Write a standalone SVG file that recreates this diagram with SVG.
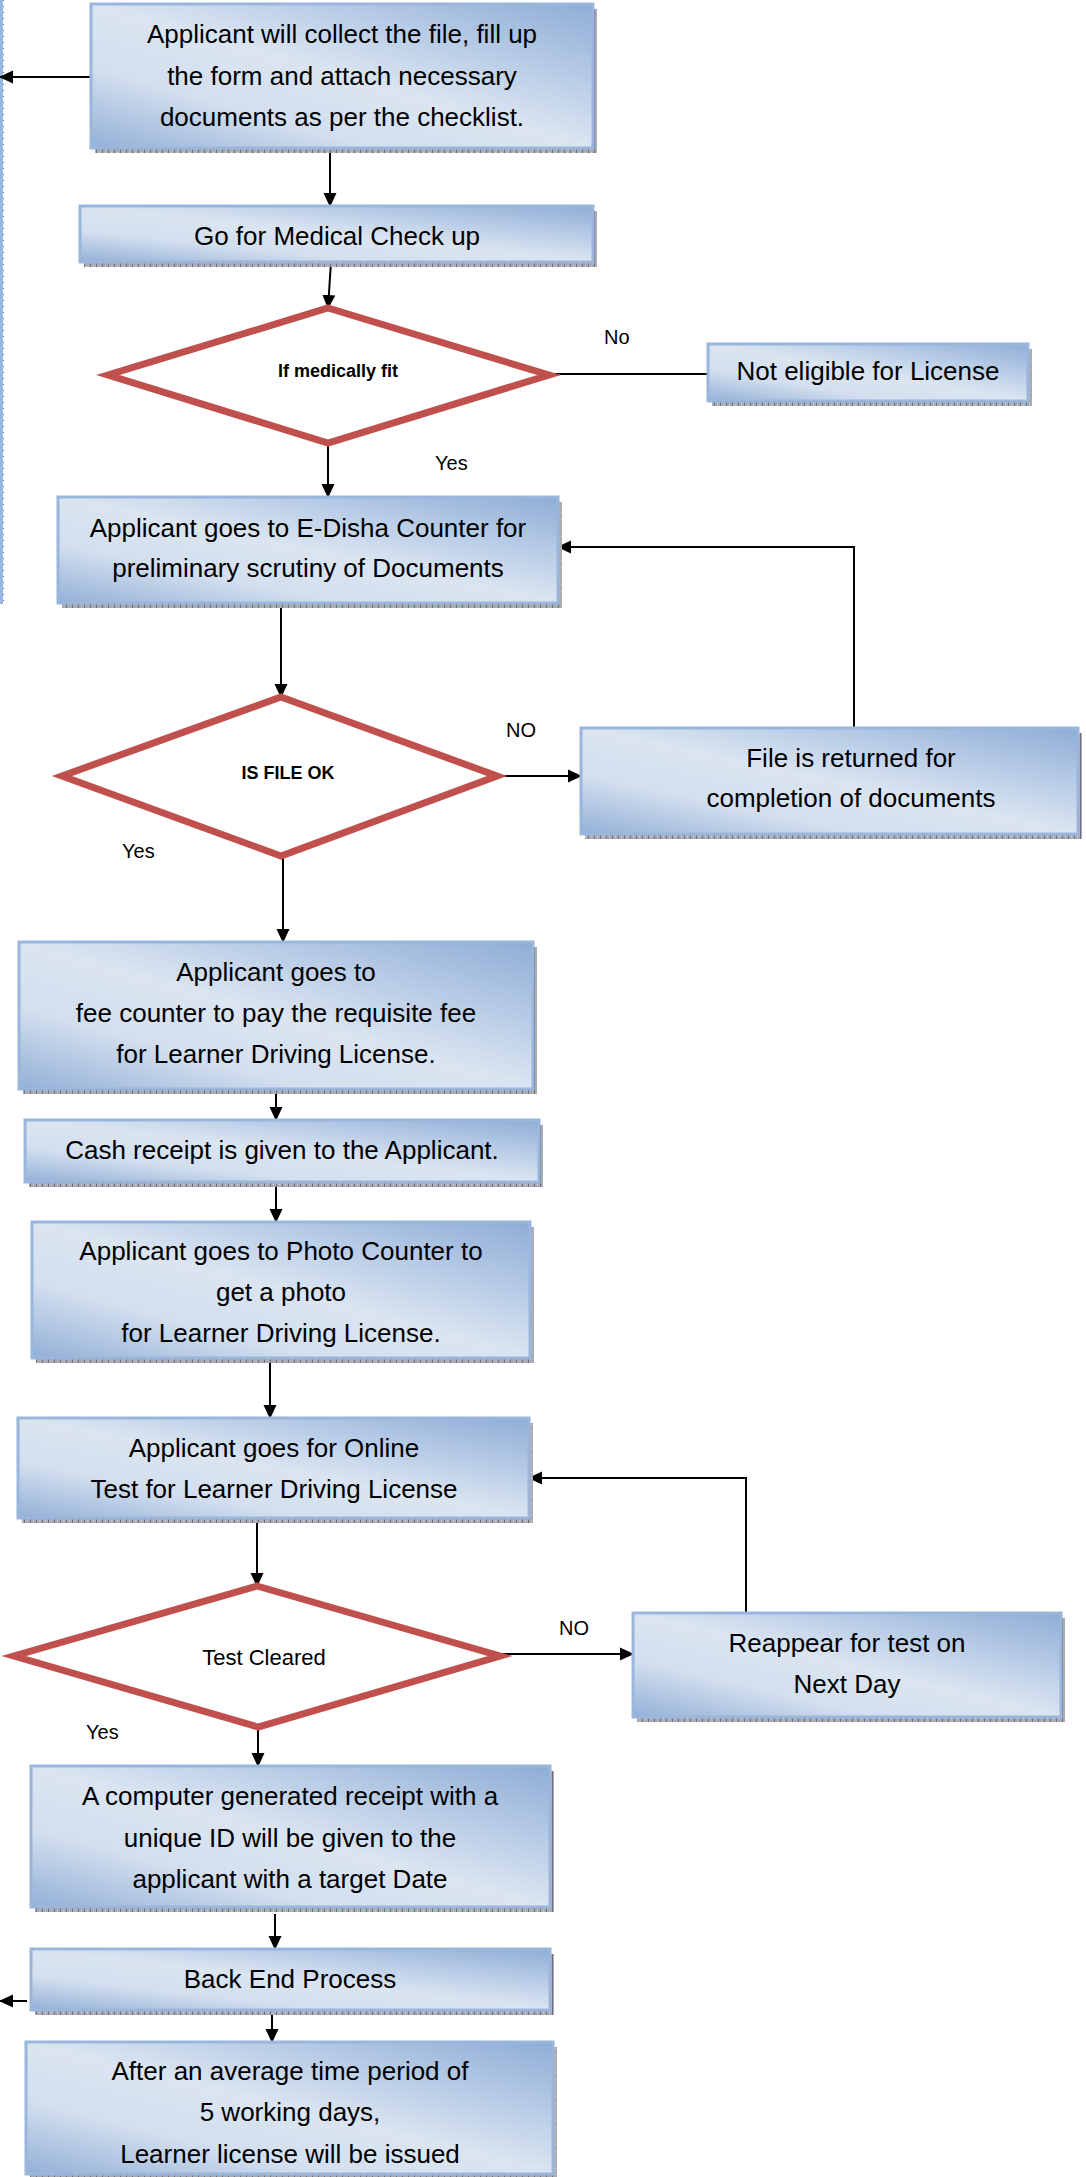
<svg xmlns="http://www.w3.org/2000/svg" width="1086" height="2177" viewBox="0 0 1086 2177">
<defs>
<linearGradient id="boxGrad" x1="1" y1="0" x2="0" y2="1">
<stop offset="0" stop-color="#8eadd5"/>
<stop offset="0.3" stop-color="#bccfe8"/>
<stop offset="0.5" stop-color="#dbe5f1"/>
<stop offset="0.72" stop-color="#d3dfef"/>
<stop offset="1" stop-color="#92b0d6"/>
</linearGradient>
<pattern id="shadowPat" width="6" height="6" patternUnits="userSpaceOnUse">
<rect width="6" height="6" fill="#a9acb2"/>
<rect x="0" y="0" width="1" height="6" fill="#6b7180"/>
<rect x="3" y="2" width="1" height="1" fill="#d0d2d6"/>
</pattern>
<marker id="arr" viewBox="0 0 14 14" markerWidth="14" markerHeight="14" refX="13" refY="7" orient="auto" markerUnits="userSpaceOnUse">
<path d="M0,0.5 L14,7 L0,13.5 z" fill="#000"/>
</marker>
</defs>
<style>
.shadow{fill:url(#shadowPat);}
.box{fill:url(#boxGrad);stroke:#9ab6dc;stroke-width:3;}
.dia{fill:#fff;stroke:#c0504d;stroke-width:7;stroke-linejoin:miter;}
.t{font-family:"Liberation Sans",Arial,sans-serif;font-size:26px;fill:#000;text-anchor:middle;}
.lbl{font-family:"Liberation Sans",Arial,sans-serif;font-size:20px;fill:#000;}
.dt{font-family:"Liberation Sans",Arial,sans-serif;font-size:18px;font-weight:bold;fill:#000;text-anchor:middle;}
.dtn{font-family:"Liberation Sans",Arial,sans-serif;font-size:22px;fill:#000;text-anchor:middle;}
.c{fill:none;stroke:#000;stroke-width:2;}
.ca{fill:none;stroke:#000;stroke-width:2;marker-end:url(#arr);}
</style>
<rect width="1086" height="2177" fill="#fff"/>

<g id="left-edge">
<rect x="0" y="0" width="3" height="604" fill="#9ab6dc"/>
<line x1="3.5" y1="0" x2="3.5" y2="604" stroke="#6b7180" stroke-width="1" stroke-dasharray="1 5"/>
</g>

<g id="connectors">
<line class="ca" x1="90" y1="77" x2="0" y2="77"/>
<line class="ca" x1="330" y1="148" x2="330" y2="206"/>
<line class="ca" x1="331" y1="262" x2="328" y2="308"/>
<line class="c" x1="549" y1="374" x2="708" y2="374"/>
<line class="ca" x1="328" y1="443" x2="328" y2="497"/>
<line class="ca" x1="281" y1="603" x2="281" y2="697"/>
<line class="ca" x1="497" y1="776" x2="581" y2="776"/>
<polyline class="ca" points="854,728 854,547 558,547"/>
<line class="ca" x1="283" y1="856" x2="283" y2="942"/>
<line class="ca" x1="276" y1="1089" x2="276" y2="1120"/>
<line class="ca" x1="276" y1="1182" x2="276" y2="1222"/>
<line class="ca" x1="270" y1="1358" x2="270" y2="1418"/>
<line class="ca" x1="257" y1="1518" x2="257" y2="1586"/>
<line class="ca" x1="500" y1="1654" x2="633" y2="1654"/>
<polyline class="ca" points="746,1613 746,1478 529,1478"/>
<line class="ca" x1="258" y1="1727" x2="258" y2="1766"/>
<line class="ca" x1="275" y1="1914" x2="275" y2="1949"/>
<line class="ca" x1="27" y1="2001" x2="0" y2="2001"/>
<line class="ca" x1="272" y1="2010" x2="272" y2="2042"/>
</g>

<g id="labels">
<text class="lbl" x="604" y="344">No</text>
<text class="lbl" x="435" y="470">Yes</text>
<text class="lbl" x="506" y="737">NO</text>
<text class="lbl" x="122" y="858">Yes</text>
<text class="lbl" x="559" y="1635">NO</text>
<text class="lbl" x="86" y="1739">Yes</text>
</g>

<g id="n1">
<rect class="shadow" x="95" y="9" width="502" height="144"/>
<rect class="box" x="91" y="4" width="502" height="144"/>
<text class="t" x="342" y="43">Applicant will collect the file, fill up</text>
<text class="t" x="342" y="85">the form and attach necessary</text>
<text class="t" x="342" y="126">documents as per the checklist.</text>
</g>

<g id="n2">
<rect class="shadow" x="84" y="211" width="513" height="56"/>
<rect class="box" x="80" y="206" width="513" height="56"/>
<text class="t" x="337" y="245">Go for Medical Check up</text>
</g>

<g id="d1">
<polygon class="dia" points="328,308 549,375 328,443 108,375"/>
<text class="dt" x="338" y="377">If medically fit</text>
</g>

<g id="n3">
<rect class="shadow" x="712" y="349" width="320" height="57"/>
<rect class="box" x="708" y="344" width="320" height="57"/>
<text class="t" x="868" y="380">Not eligible for License</text>
</g>

<g id="n4">
<rect class="shadow" x="62" y="502" width="500" height="106"/>
<rect class="box" x="58" y="497" width="500" height="106"/>
<text class="t" x="308" y="537">Applicant goes to E-Disha Counter for</text>
<text class="t" x="308" y="577">preliminary scrutiny of Documents</text>
</g>

<g id="d2">
<polygon class="dia" points="281,697 497,776 281,856 62,776"/>
<text class="dt" x="288" y="779">IS FILE OK</text>
</g>

<g id="n5">
<rect class="shadow" x="585" y="733" width="497" height="106"/>
<rect class="box" x="581" y="728" width="497" height="106"/>
<text class="t" x="851" y="767">File is returned for</text>
<text class="t" x="851" y="807">completion of documents</text>
</g>

<g id="n6">
<rect class="shadow" x="23" y="947" width="514" height="147"/>
<rect class="box" x="19" y="942" width="514" height="147"/>
<text class="t" x="276" y="981">Applicant goes to</text>
<text class="t" x="276" y="1022">fee counter to pay the requisite fee</text>
<text class="t" x="276" y="1063">for Learner Driving License.</text>
</g>

<g id="n7">
<rect class="shadow" x="29" y="1125" width="514" height="62"/>
<rect class="box" x="25" y="1120" width="514" height="62"/>
<text class="t" x="282" y="1159">Cash receipt is given to the Applicant.</text>
</g>

<g id="n8">
<rect class="shadow" x="36" y="1227" width="498" height="136"/>
<rect class="box" x="32" y="1222" width="498" height="136"/>
<text class="t" x="281" y="1260">Applicant goes to Photo Counter to</text>
<text class="t" x="281" y="1301">get a photo</text>
<text class="t" x="281" y="1342">for Learner Driving License.</text>
</g>

<g id="n9">
<rect class="shadow" x="22" y="1423" width="511" height="100"/>
<rect class="box" x="18" y="1418" width="511" height="100"/>
<text class="t" x="274" y="1457">Applicant goes for Online</text>
<text class="t" x="274" y="1498">Test for Learner Driving License</text>
</g>

<g id="d3">
<polygon class="dia" points="257,1586 500,1656 258,1727 14,1656"/>
<text class="dtn" x="264" y="1665">Test Cleared</text>
</g>

<g id="n10">
<rect class="shadow" x="637" y="1618" width="428" height="104"/>
<rect class="box" x="633" y="1613" width="428" height="104"/>
<text class="t" x="847" y="1652">Reappear for test on</text>
<text class="t" x="847" y="1693">Next Day</text>
</g>

<g id="n11">
<rect class="shadow" x="35" y="1771" width="519" height="141"/>
<rect class="box" x="31" y="1766" width="519" height="141"/>
<text class="t" x="290" y="1805">A computer generated receipt with a</text>
<text class="t" x="290" y="1847">unique ID will be given to the</text>
<text class="t" x="290" y="1888">applicant with a target Date</text>
</g>

<g id="n12">
<rect class="shadow" x="35" y="1954" width="519" height="61"/>
<rect class="box" x="31" y="1949" width="519" height="61"/>
<text class="t" x="290" y="1988">Back End Process</text>
</g>

<g id="n13">
<rect class="shadow" x="30" y="2047" width="527" height="132"/>
<rect class="box" x="26" y="2042" width="527" height="132"/>
<text class="t" x="290" y="2080">After an average time period of</text>
<text class="t" x="290" y="2121">5 working days,</text>
<text class="t" x="290" y="2163">Learner license will be issued</text>
</g>
</svg>
